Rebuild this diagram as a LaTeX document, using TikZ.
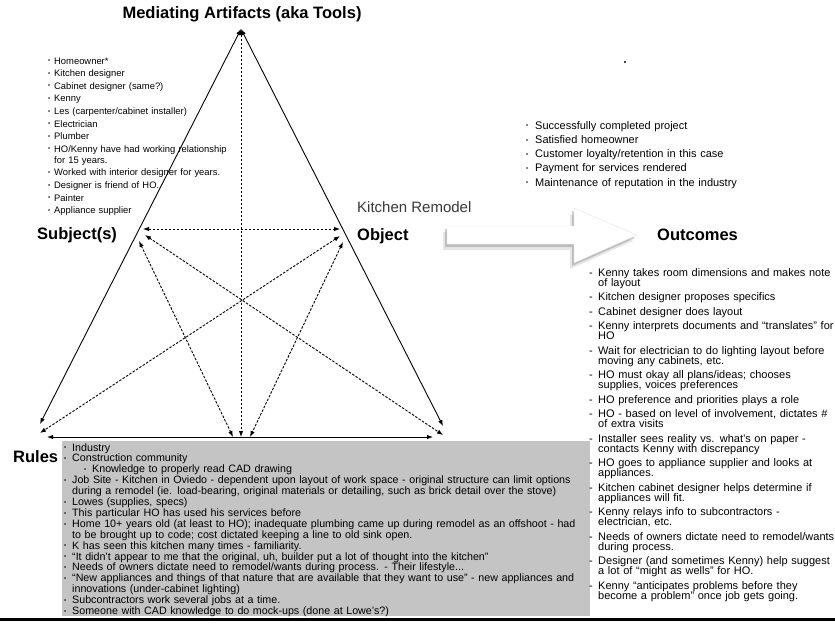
\documentclass[tikz,border=0pt]{standalone}
\usepackage{fontspec}
\setmainfont{Liberation Sans}
\usepackage{tikz}
\usetikzlibrary{arrows,arrows.meta,shadows,positioning,calc}

\definecolor{boxgray}{RGB}{196,196,196}
\definecolor{remgray}{RGB}{55,55,55}

\newlength\bulwd
\newlength\itemgap
\newcommand{\bul}{\raisebox{1.3pt}{\fontsize{6}{6}\selectfont\textbullet}}
\newcommand{\listfont}[5]{\fontsize{#1}{#2}\selectfont\setlength\bulwd{#3}\setlength\itemgap{#4}\def\bulsym{#5}}
\newcommand{\lfirst}{\lineskiplimit=-100pt\hangindent=\bulwd\hangafter=1\makebox[\bulwd][l]{\bulsym}}
\newcommand{\li}{\par\vspace{\itemgap}\hangindent=\bulwd\hangafter=1\noindent\makebox[\bulwd][l]{\bulsym}}
\newcommand{\lisub}{\par\vspace{\itemgap}\hangindent=28pt\hangafter=1\noindent\hspace*{20pt}\makebox[8pt][l]{\bulsym}}

\begin{document}
\begin{tikzpicture}[x=1pt,y=-1pt,>={Latex[length=6pt,width=4.5pt]}]
	\tikzstyle{edge}=[<->,line width=0.9pt]
	\tikzstyle{link}=[<->,line width=0.9pt,dash pattern=on 2.5pt off 1.5pt]
	\tikzstyle{corner}=[font=\bfseries\fontsize{16.5}{18}\selectfont,inner sep=0pt]
	\tikzstyle{itemlist}=[inner sep=0pt,anchor=base west,align=left]

	\useasboundingbox (0,0) rectangle (835,624);

	% corners of the triangle
	\coordinate (tools) at (241,29);
	\coordinate (subj) at (143,229);
	\coordinate (obj) at (340,229);
	\coordinate (rules) at (40,437);
	\coordinate (comm) at (443,437);
	\coordinate (mid) at (241,437);

	% rules box
	\fill[boxgray] (62,441) rectangle (590,616);
	\draw[line width=2.5pt] (0,619.5) -- (835,619.5);

	% solid sides
	\draw[edge] (tools) -- ([yshift=13pt]rules);
	\draw[edge] (tools) -- ([yshift=11pt]comm);
	\draw[edge] ([xshift=7pt]rules) -- ([xshift=-10pt]comm);

	% dashed links
	\draw[link] (tools) -- (mid);
	\draw[link] (subj) -- (obj);
	\draw[link] ([shift={(2pt,-6pt)}]subj) -- ([yshift=2pt]comm);
	\draw[link] ([shift={(-4pt,-12pt)}]subj) -- ([xshift=-8pt]mid);
	\draw[link] ([yshift=-7pt]obj) -- ([yshift=4pt]rules);
	\draw[link] ([shift={(3pt,-13pt)}]obj) -- ([xshift=9pt]mid);

	% labels
	\node[corner,anchor=base] (toolslbl) at (242,18) {Mediating Artifacts (aka Tools)};
	\node[corner,anchor=base west] (subjlbl) at (37,239) {Subject(s)};
	\node[corner,anchor=base west] (objlbl) at (357,240) {Object};
	\node[font=\fontsize{15}{17}\selectfont,text=remgray,inner sep=0pt,anchor=base west] (remodel) at (357,212) {Kitchen Remodel};
	\node[corner,anchor=base west] (outlbl) at (657,240) {Outcomes};
	\node[corner,anchor=base west] (ruleslbl) at (13,462) {Rules};

	% big arrow to outcomes
	\path[fill=white,draw=gray!20,line width=0.4pt,
	  drop shadow={shadow xshift=-4pt,shadow yshift=-6pt,opacity=.2},
	  drop shadow={shadow xshift=-2pt,shadow yshift=-3pt,opacity=.4}]
	  (447,226) -- (574,226) -- (574,208) -- (637,235) -- (574,263) -- (574,244) -- (447,244) -- cycle;

	\fill (625,62) circle (1.2pt);

	% lists
	\node[itemlist,text width=220pt,font=\listfont{9.4}{11}{6pt}{1.6pt}{\bul}] (people) at (48,64) {\lfirst Homeowner*
	 \li Kitchen designer
	 \li Cabinet designer (same?)
	 \li Kenny
	 \li Les (carpenter/cabinet installer)
	 \li Electrician
	 \li Plumber
	 \li HO/Kenny have had working relationship\newline for 15 years.
	 \li Worked with interior designer for years.
	 \li Designer is friend of HO.
	 \li Painter
	 \li Appliance supplier\par};

	\node[itemlist,text width=260pt,font=\listfont{11}{14.3}{9pt}{0pt}{\bul}] (results) at (526,129) {\lfirst Successfully completed project
	 \li Satisfied homeowner
	 \li Customer loyalty/retention in this case
	 \li Payment for services rendered
	 \li Maintenance of reputation in the industry\par};

	\node[itemlist,text width=260pt,font=\listfont{11}{10}{9pt}{4.5pt}{-}] (tasks) at (589,276) {\lfirst Kenny takes room dimensions and makes note\newline of layout
	 \li Kitchen designer proposes specifics
	 \li Cabinet designer does layout
	 \li Kenny interprets documents and ``translates'' for\newline HO
	 \li Wait for electrician to do lighting layout before\newline moving any cabinets, etc.
	 \li HO must okay all plans/ideas; chooses\newline supplies, voices preferences
	 \li HO preference and priorities plays a role
	 \li HO - based on level of involvement, dictates \#\newline of extra visits
	 \li Installer sees reality vs. what's on paper -\newline contacts Kenny with discrepancy
	 \li HO goes to appliance supplier and looks at\newline appliances.
	 \li Kitchen cabinet designer helps determine if\newline appliances will fit.
	 \li Kenny relays info to subcontractors -\newline electrician, etc.
	 \li Needs of owners dictate need to remodel/wants\newline during process.
	 \li Designer (and sometimes Kenny) help suggest\newline a lot of ``might as wells'' for HO.
	 \li Kenny ``anticipates problems before they\newline become a problem'' once job gets going.\par};

	\node[itemlist,text width=530pt,font=\listfont{10.7}{10.9}{8pt}{0pt}{\bul}] (norms) at (64,451) {\lfirst Industry
	 \li Construction community
	 \lisub Knowledge to properly read CAD drawing
	 \li Job Site - Kitchen in Oviedo - dependent upon layout of work space - original structure can limit options\newline during a remodel (ie. load-bearing, original materials or detailing, such as brick detail over the stove)
	 \li Lowes (supplies, specs)
	 \li This particular HO has used his services before
	 \li Home 10+ years old (at least to HO); inadequate plumbing came up during remodel as an offshoot - had\newline to be brought up to code; cost dictated keeping a line to old sink open.
	 \li K has seen this kitchen many times - familiarity.
	 \li ``It didn't appear to me that the original, uh, builder put a lot of thought into the kitchen''
	 \li Needs of owners dictate need to remodel/wants during process. - Their lifestyle...
	 \li ``New appliances and things of that nature that are available that they want to use'' - new appliances and\newline innovations (under-cabinet lighting)
	 \li Subcontractors work several jobs at a time.
	 \li Someone with CAD knowledge to do mock-ups (done at Lowe's?)\par};
\end{tikzpicture}
\end{document}
